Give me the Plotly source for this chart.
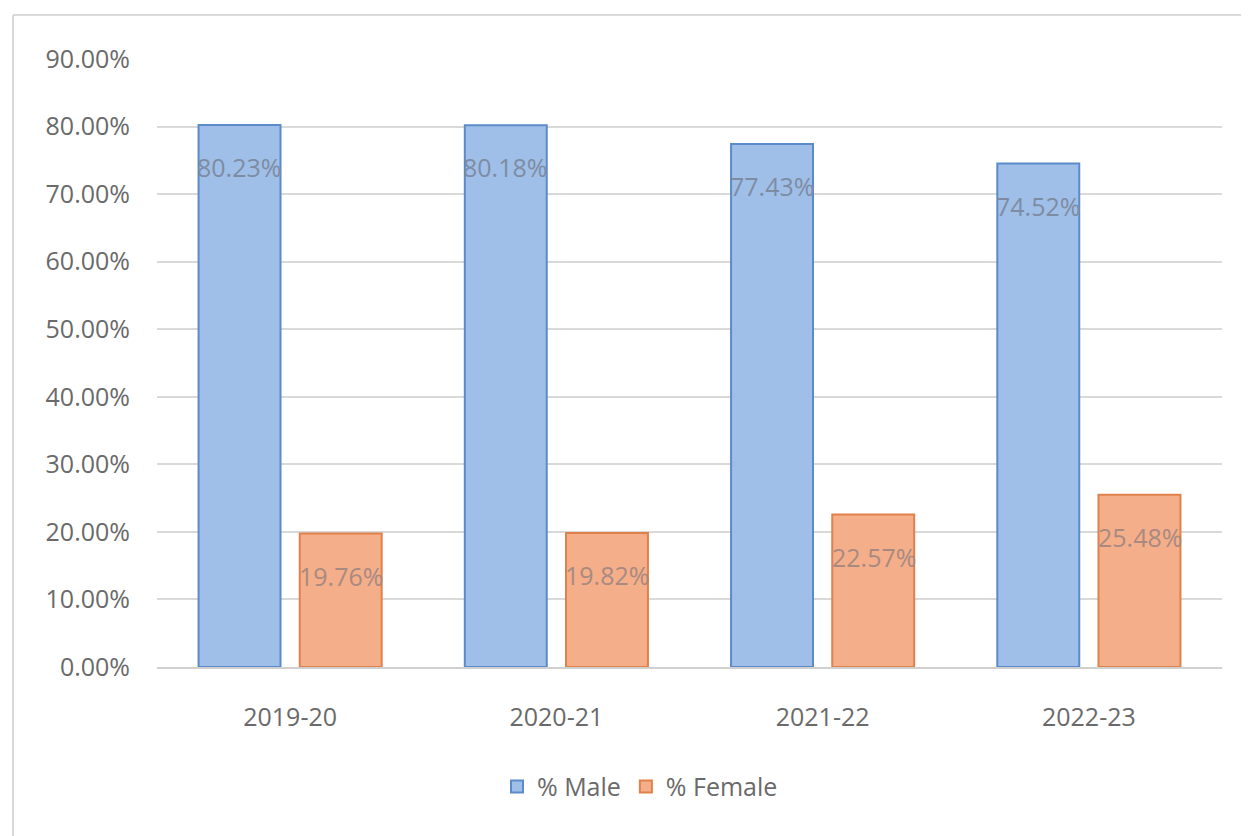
import plotly.graph_objects as go

categories = ["2019-20", "2020-21", "2021-22", "2022-23"]
male = [80.23, 80.18, 77.43, 74.52]
female = [19.76, 19.82, 22.57, 25.48]
tick_vals = [0, 10, 20, 30, 40, 50, 60, 70, 80, 90]
tick_text = [f"{v:.2f}%" for v in tick_vals]

FONT = "Open Sans, Liberation Sans, sans-serif"
GRAY = "#6a6a6a"

fig = go.Figure()
fig.add_trace(go.Bar(
    x=categories, y=male, name="% Male",
    marker=dict(color="#9fbfe8", line=dict(color="#5b8bc9", width=2)),
))
fig.add_trace(go.Bar(
    x=categories, y=female, name="% Female",
    marker=dict(color="#f5ae8a", line=dict(color="#e0804a", width=2)),
))

annotations = []
for i, c in enumerate(categories):
    annotations.append(dict(x=c, y=male[i], text=f"{male[i]:.2f}%", xref="x", yref="y",
                            xshift=-51, yshift=-42, showarrow=False,
                            font=dict(family=FONT, size=25, color="#7e8ca3")))
    annotations.append(dict(x=c, y=female[i], text=f"{female[i]:.2f}%", xref="x", yref="y",
                            xshift=51, yshift=-42, showarrow=False,
                            font=dict(family=FONT, size=25, color="#a88a80")))

fig.update_layout(
    width=1249, height=836,
    margin=dict(l=149, r=35, t=51, b=177),
    paper_bgcolor="white", plot_bgcolor="white",
    barmode="group", bargap=0.24, bargroupgap=0.19,
    font=dict(family=FONT, size=25, color=GRAY),
    showlegend=True,
    legend=dict(orientation="h", x=0.4535, xanchor="center", y=-0.197, yanchor="middle",
                font=dict(family=FONT, size=25, color=GRAY), itemwidth=30),
    annotations=annotations,
    shapes=[
        dict(type="line", xref="paper", yref="paper", x0=-0.1352, x1=1.05, y0=1.0724, y1=1.0724,
             line=dict(color="#d9d9d9", width=2)),
        dict(type="line", xref="paper", yref="paper", x0=-0.1352, x1=-0.1352, y0=1.0724, y1=-0.3,
             line=dict(color="#d9d9d9", width=2)),
    ],
)
fig.update_yaxes(range=[0, 90], tickvals=tick_vals, ticktext=tick_text,
                 showgrid=True, gridcolor="#d9d9d9", gridwidth=1.5, zeroline=False,
                 showline=False, ticks="", ticklabelstandoff=26,
                 tickfont=dict(family=FONT, size=25, color=GRAY))
fig.update_xaxes(showline=True, linecolor="#d0d0d0", linewidth=1.5, ticks="",
                 ticklabelstandoff=27, tickfont=dict(family=FONT, size=25, color=GRAY))

fig.write_html("out.html")
